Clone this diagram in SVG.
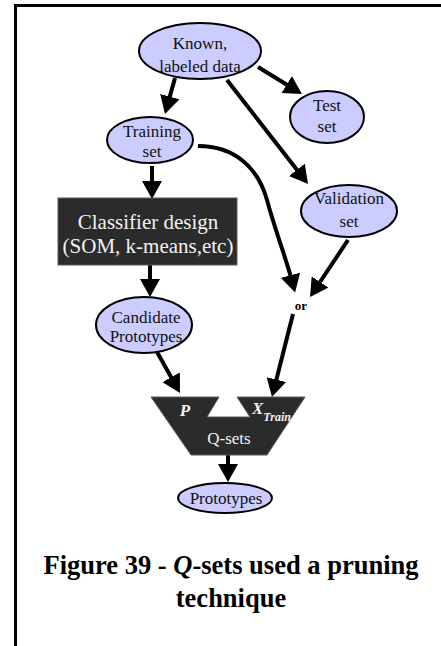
<svg xmlns="http://www.w3.org/2000/svg" width="441" height="646" viewBox="0 0 441 646">
<style>
  .set { fill: #ccccff; stroke: #000; stroke-width: 2; }
  .lbl { font-family: "Liberation Serif", serif; font-size: 17px; fill: #111; text-anchor: middle; }
  .box { fill: #2b2b2b; stroke: #5a5a5a; stroke-width: 1; }
  .wlbl { font-family: "Liberation Serif", serif; fill: #f2f2f2; text-anchor: middle; }
  .edge { fill: none; stroke: #000; stroke-width: 4; }
  .cap { font-family: "Liberation Serif", serif; font-size: 26.5px; font-weight: bold; fill: #000; text-anchor: middle; }
</style>
<defs>
  <marker id="head" viewBox="0 0 18 20" refX="6" refY="10" markerWidth="18" markerHeight="20" markerUnits="userSpaceOnUse" orient="auto">
    <path d="M0,0 L18,10 L0,20 z" fill="#000"/>
  </marker>
</defs>
<rect width="441" height="646" fill="#fff"/>
<!-- page frame -->
<path d="M15.5 646 V5.5 H441" fill="none" stroke="#000" stroke-width="3"/>

<g id="connectors">
  <path class="edge" d="M175,78 L168.2,102.4" marker-end="url(#head)"/>
  <path class="edge" d="M258,67 L291.8,87.7" marker-end="url(#head)"/>
  <path class="edge" d="M227,80 L300.6,174.5" marker-end="url(#head)"/>
  <path class="edge" d="M198,146 C235,146 258,168 267,200 C275,230 285,255 292,281" marker-end="url(#head)"/>
  <path class="edge" d="M348,240 L316.7,287" marker-end="url(#head)"/>
  <path class="edge" d="M152,166 L152,187" marker-end="url(#head)"/>
  <path class="edge" d="M150,265 L150,285" marker-end="url(#head)"/>
  <path class="edge" d="M157,352 L174.1,382.5" marker-end="url(#head)"/>
  <path class="edge" d="M293,314 L274.9,385.4" marker-end="url(#head)"/>
  <path class="edge" d="M228,455 L228,470" marker-end="url(#head)"/>
</g>

<g id="known">
  <ellipse class="set" cx="200" cy="51" rx="61" ry="28"/>
  <text class="lbl" x="200" y="49">Known,</text>
  <text class="lbl" x="200" y="72">labeled data</text>
</g>
<g id="test">
  <ellipse class="set" cx="327" cy="117" rx="37" ry="26"/>
  <text class="lbl" x="327" y="111">Test</text>
  <text class="lbl" x="327" y="132">set</text>
</g>
<g id="training">
  <ellipse class="set" cx="150" cy="140" rx="43" ry="23"/>
  <text class="lbl" x="152" y="137">Training</text>
  <text class="lbl" x="152" y="157">set</text>
</g>
<g id="validation">
  <ellipse class="set" cx="349" cy="211" rx="48" ry="26"/>
  <text class="lbl" x="349" y="204">Validation</text>
  <text class="lbl" x="349" y="227">set</text>
</g>
<g id="classifier">
  <rect class="box" x="58" y="198" width="179" height="67"/>
  <text class="wlbl" x="148" y="229" font-size="21">Classifier design</text>
  <text class="wlbl" x="148" y="253" font-size="21">(SOM, k-means,etc)</text>
</g>
<g id="candidate">
  <ellipse class="set" cx="144" cy="325" rx="48" ry="28"/>
  <text class="lbl" x="146" y="323">Candidate</text>
  <text class="lbl" x="146" y="342">Prototypes</text>
</g>
<g id="or">
  <text x="301" y="310" font-family="Liberation Serif, serif" font-size="13" font-weight="bold" text-anchor="middle">or</text>
</g>
<g id="qsets">
  <polygon class="box" points="151,397 219,397 207,417 250,417 237,397 305,397 267,455 191,455"/>
  <text class="wlbl" x="185" y="416" font-size="17" font-weight="bold" font-style="italic">P</text>
  <text class="wlbl" x="252" y="414" font-size="17" font-weight="bold" font-style="italic" style="text-anchor:start">X<tspan font-size="12" dy="7">Train</tspan></text>
  <text class="wlbl" x="229" y="444" font-size="17">Q-sets</text>
</g>
<g id="prototypes">
  <ellipse class="set" cx="225" cy="498" rx="47" ry="15"/>
  <text class="lbl" x="226" y="504">Prototypes</text>
</g>

<g id="caption">
  <text class="cap" x="231" y="574">Figure 39 - <tspan font-style="italic">Q</tspan>-sets used a pruning</text>
  <text class="cap" x="231" y="607">technique</text>
</g>
</svg>
